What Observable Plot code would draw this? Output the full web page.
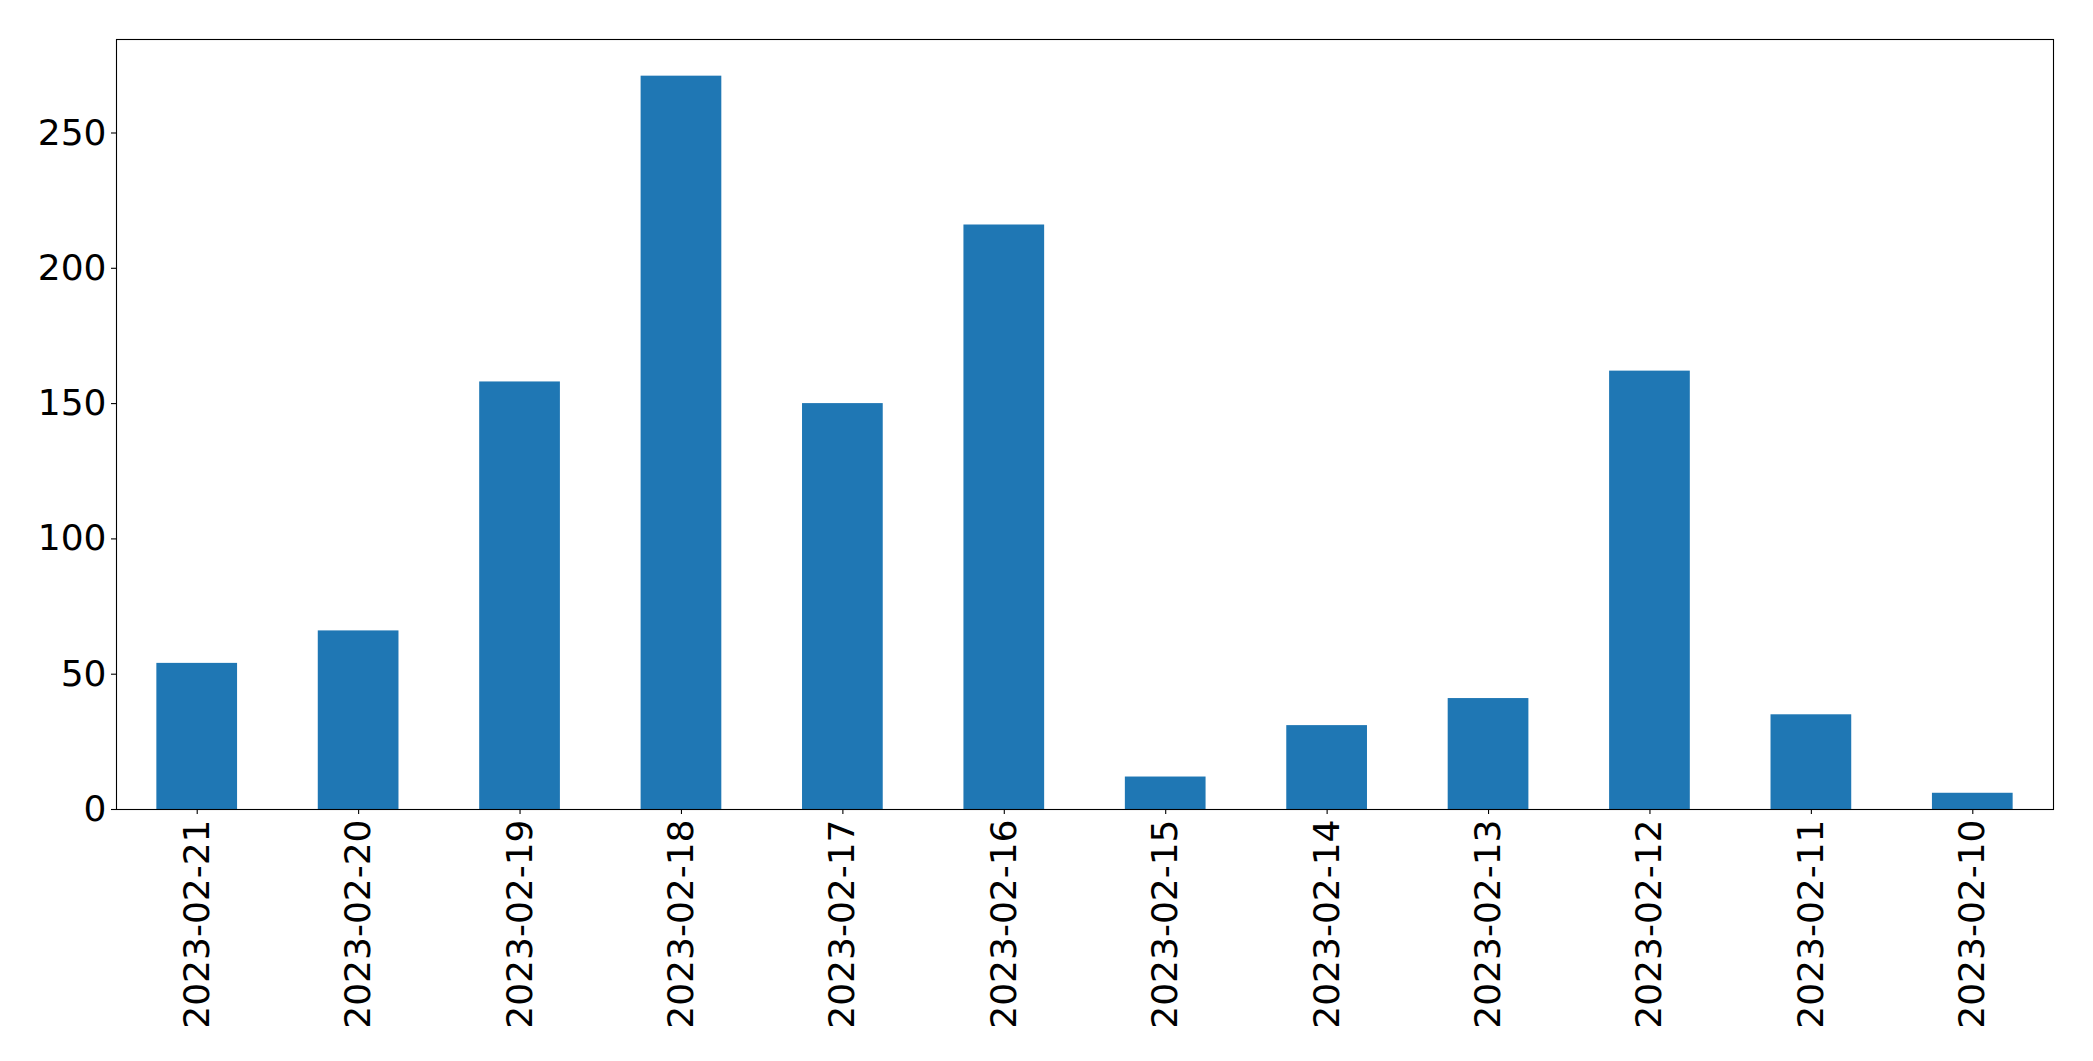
<!DOCTYPE html>
<html>
<head>
<meta charset="utf-8">
<script src="https://cdn.jsdelivr.net/npm/d3@7"></script>
<script src="https://cdn.jsdelivr.net/npm/@observablehq/plot@0.6"></script>
<style>
  html, body { margin: 0; padding: 0; background: #fff; }
  #chart svg { display: block; }
</style>
</head>
<body>
<div id="chart"></div>
<script>
const dates = ["2023-02-21","2023-02-20","2023-02-19","2023-02-18","2023-02-17","2023-02-16","2023-02-15","2023-02-14","2023-02-13","2023-02-12","2023-02-11","2023-02-10"];
const counts = [54, 66, 158, 271, 150, 216, 12, 31, 41, 162, 35, 6];
const yTicks = [0, 50, 100, 150, 200, 250];

const data = dates.map((d, i) => ({date: d, count: counts[i]}));
const yMax = d3.max(counts) * 1.05;

const chart = Plot.plot({
  width: 2093,
  height: 1061,
  marginLeft: 116,
  marginTop: 39,
  marginRight: 40,
  marginBottom: 252,
  style: {fontFamily: "DejaVu Sans", fontSize: "36px", color: "#000", background: "#fff"},
  x: {domain: dates, paddingInner: 0.5, paddingOuter: 0.25, round: false, label: null},
  y: {domain: [0, yMax], label: null},
  marks: [
    Plot.barY(data, {x: "date", y: "count", fill: "#1f77b4"}),
    Plot.frame({stroke: "#000", strokeWidth: 1.1}),
    Plot.axisY({ticks: yTicks, tickSize: 5, tickPadding: 5, fontSize: 36, label: null, stroke: "#000", strokeWidth: 1.1}),
    Plot.axisX({tickSize: 5, tickPadding: 5, tickRotate: -90, fontSize: 36, label: null, stroke: "#000", strokeWidth: 1.1})
  ]
});
document.getElementById("chart").appendChild(chart);
</script>
</body>
</html>
